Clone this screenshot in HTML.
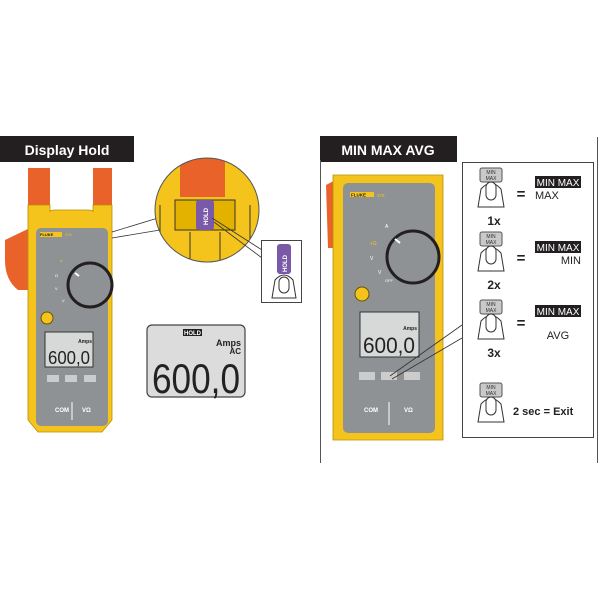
<!DOCTYPE html>
<html><head><meta charset="utf-8"><style>
html,body{margin:0;padding:0;background:#fff}
svg{display:block}
text{font-family:"Liberation Sans",sans-serif}
</style></head><body>
<svg width="600" height="600" viewBox="0 0 600 600" xmlns="http://www.w3.org/2000/svg">
<rect width="600" height="600" fill="#fff"/>
<rect x="0" y="136" width="134" height="26" fill="#231f20"/>
<text x="67" y="155" font-size="14" font-weight="bold" fill="#fff" text-anchor="middle">Display Hold</text>
<rect x="320" y="136" width="137" height="26" fill="#231f20"/>
<text x="388" y="155" font-size="14" font-weight="bold" fill="#fff" text-anchor="middle">MIN MAX AVG</text>
<line x1="320.5" y1="160" x2="320.5" y2="463" stroke="#555" stroke-width="1"/>
<line x1="597.5" y1="137" x2="597.5" y2="463" stroke="#555" stroke-width="1"/>

<!-- LEFT METER -->
<path d="M5,240 L30,228 L34,290 L18,290 Q5,280 5,260 Z" fill="#e8622a"/>
<rect x="28" y="168" width="22" height="45" fill="#e8622a"/>
<rect x="93" y="168" width="19" height="45" fill="#e8622a"/>
<path d="M28,205 L50,205 L50,212 Q50,210 55,210 L88,210 Q93,210 93,212 L93,205 L112,205 L112,420 L102,432 L38,432 L28,420 Z" fill="#f5c41c" stroke="#b98f00" stroke-width="0.8"/>
<rect x="36" y="228" width="72" height="198" rx="5" fill="#8f9294"/>
<rect x="40" y="232" width="22" height="5" fill="#f5c41c"/>
<text x="40" y="236" font-size="4" font-weight="bold" fill="#222">FLUKE</text>
<text x="65" y="236" font-size="4" fill="#f5c41c">376</text>
<circle cx="90" cy="285" r="22" fill="#8f9294" stroke="#231f20" stroke-width="3"/>
<line x1="75" y1="273" x2="79" y2="276" stroke="#fff" stroke-width="2"/>
<text x="60" y="262" font-size="4" fill="#f5c41c">A</text>
<text x="55" y="277" font-size="4" fill="#fff">Ω</text>
<text x="55" y="290" font-size="4" fill="#fff">V</text>
<text x="62" y="302" font-size="4" fill="#fff">V</text>
<circle cx="47" cy="318" r="6" fill="#f5c41c" stroke="#6b5200" stroke-width="1"/>
<rect x="45" y="332" width="48" height="35" fill="#d7d8d8" stroke="#333" stroke-width="1"/>
<text x="92" y="343" font-size="5" font-weight="bold" fill="#222" text-anchor="end">Amps</text>
<text x="69" y="364" font-size="18" fill="#222" text-anchor="middle" textLength="42" lengthAdjust="spacingAndGlyphs">600,0</text>
<rect x="47" y="375" width="12" height="7" fill="#ccc"/>
<rect x="65" y="375" width="12" height="7" fill="#ccc"/>
<rect x="84" y="375" width="12" height="7" fill="#ccc"/>
<text x="55" y="412" font-size="6" font-weight="bold" fill="#fff">COM</text>
<text x="82" y="412" font-size="6" font-weight="bold" fill="#fff">VΩ</text>
<line x1="72" y1="402" x2="72" y2="420" stroke="#fff"/>

<line x1="112" y1="232" x2="158" y2="218" stroke="#333" stroke-width="0.8"/>
<line x1="112" y1="238" x2="160" y2="230" stroke="#333" stroke-width="0.8"/>
<clipPath id="c1"><circle cx="207" cy="210" r="52"/></clipPath>
<g clip-path="url(#c1)">
<rect x="150" y="155" width="115" height="115" fill="#f5c41c"/>
<rect x="180" y="155" width="45" height="42" fill="#e8622a"/>
<path d="M175,200 L235,200 L235,230 L175,230 Z" fill="#e3b100" stroke="#333" stroke-width="1"/>
<rect x="196" y="200" width="18" height="30" rx="3" fill="#7a5aa8"/>
<line x1="190" y1="232" x2="190" y2="265" stroke="#333"/>
<line x1="220" y1="232" x2="220" y2="265" stroke="#333"/>
<line x1="160" y1="205" x2="160" y2="265" stroke="#333"/>
<line x1="250" y1="205" x2="250" y2="265" stroke="#333"/>
</g>
<circle cx="207" cy="210" r="52" fill="none" stroke="#555" stroke-width="1"/>
<text transform="translate(208,225) rotate(-90)" font-size="6" font-weight="bold" fill="#fff">HOLD</text>
<line x1="212" y1="218" x2="262" y2="250" stroke="#333" stroke-width="0.8"/>
<line x1="214" y1="222" x2="262" y2="258" stroke="#333" stroke-width="0.8"/>
<rect x="261.5" y="240.5" width="40" height="62" fill="#fff" stroke="#444"/>
<rect x="277" y="244" width="14" height="30" rx="3" fill="#7a5aa8"/>
<text transform="translate(287,272) rotate(-90)" font-size="6" font-weight="bold" fill="#fff">HOLD</text>
<path d="M272,298 L275,280 Q284,270 293,280 L296,298 Z" fill="#fff" stroke="#333"/>
<rect x="279" y="277" width="10" height="16" rx="5" fill="#fff" stroke="#333"/>

<rect x="147" y="325" width="98" height="72" rx="5" fill="#dcdcdc" stroke="#444" stroke-width="1.2"/>
<rect x="183" y="329" width="19" height="7" fill="#231f20"/>
<text x="192.5" y="335" font-size="6" font-weight="bold" fill="#fff" text-anchor="middle">HOLD</text>
<text x="241" y="346" font-size="9" font-weight="bold" fill="#222" text-anchor="end">Amps</text>
<text x="241" y="354" font-size="8" font-weight="bold" fill="#222" text-anchor="end">AC</text>
<text x="196" y="393" font-size="42" fill="#222" text-anchor="middle" textLength="88" lengthAdjust="spacingAndGlyphs">600,0</text>

<!-- RIGHT METER -->
<path d="M326,185 L345,175 L345,248 L328,248 Z" fill="#e8622a"/>
<path d="M333,175 L443,175 L443,440 L333,440 Z" fill="#f5c41c" stroke="#b98f00" stroke-width="0.8"/>
<rect x="343" y="183" width="92" height="250" rx="5" fill="#8f9294"/>
<rect x="350" y="192" width="24" height="5" fill="#f5c41c"/>
<text x="351" y="196.5" font-size="4.5" font-weight="bold" fill="#222">FLUKE</text>
<text x="377" y="197" font-size="4.5" fill="#f5c41c">376</text>
<circle cx="413" cy="257" r="26" fill="#8f9294" stroke="#231f20" stroke-width="3"/>
<line x1="395" y1="239" x2="400" y2="243" stroke="#fff" stroke-width="2"/>
<text x="385" y="228" font-size="5" fill="#fff">A</text>
<text x="370" y="245" font-size="5" fill="#f5c41c">+Ω</text>
<text x="370" y="260" font-size="5" fill="#fff">V</text>
<text x="378" y="274" font-size="5" fill="#fff">V</text>
<text x="385" y="282" font-size="4" fill="#fff">OFF</text>
<circle cx="362" cy="294" r="7" fill="#f5c41c" stroke="#6b5200" stroke-width="1"/>
<rect x="360" y="312" width="59" height="45" fill="#d7d8d8" stroke="#333" stroke-width="1"/>
<text x="417" y="330" font-size="5" font-weight="bold" fill="#222" text-anchor="end">Amps</text>
<text x="389" y="353" font-size="22" fill="#222" text-anchor="middle" textLength="52" lengthAdjust="spacingAndGlyphs">600,0</text>
<rect x="359" y="372" width="16" height="8" fill="#ccc"/>
<rect x="381" y="372" width="16" height="8" fill="#ccc"/>
<rect x="404" y="372" width="16" height="8" fill="#ccc"/>
<text x="364" y="412" font-size="6" font-weight="bold" fill="#fff">COM</text>
<text x="404" y="412" font-size="6" font-weight="bold" fill="#fff">VΩ</text>
<line x1="389" y1="402" x2="389" y2="425" stroke="#fff"/>
<line x1="390" y1="376" x2="462" y2="325" stroke="#333" stroke-width="0.8"/>
<line x1="392" y1="379" x2="462" y2="338" stroke="#333" stroke-width="0.8"/>

<rect x="462.5" y="162.5" width="131" height="275" fill="#fff" stroke="#444"/>
<g id="btn">
<rect x="480" y="168" width="22" height="14" rx="2" fill="#c9c9c9" stroke="#555"/>
<text x="491" y="174" font-size="5" fill="#333" text-anchor="middle">MIN</text>
<text x="491" y="180" font-size="5" fill="#333" text-anchor="middle">MAX</text>
<path d="M478,207 L481,189 Q491,178 501,189 L504,207 Z" fill="#fff" stroke="#333"/>
<rect x="486" y="182" width="10" height="18" rx="5" fill="#fff" stroke="#333"/>
</g>
<use href="#btn" y="64"/>
<use href="#btn" y="132"/>
<use href="#btn" y="215"/>
<text x="494" y="225" font-size="12" font-weight="bold" fill="#222" text-anchor="middle">1x</text>
<text x="494" y="289" font-size="12" font-weight="bold" fill="#222" text-anchor="middle">2x</text>
<text x="494" y="357" font-size="12" font-weight="bold" fill="#222" text-anchor="middle">3x</text>
<text x="521" y="199" font-size="15" font-weight="bold" fill="#222" text-anchor="middle">=</text>
<text x="521" y="263" font-size="15" font-weight="bold" fill="#222" text-anchor="middle">=</text>
<text x="521" y="328" font-size="15" font-weight="bold" fill="#222" text-anchor="middle">=</text>
<rect x="535" y="176" width="46" height="12" fill="#231f20"/>
<text x="558" y="186" font-size="10" fill="#fff" text-anchor="middle">MIN MAX</text>
<text x="535" y="199" font-size="11" fill="#222">MAX</text>
<rect x="535" y="241" width="46" height="12" fill="#231f20"/>
<text x="558" y="251" font-size="10" fill="#fff" text-anchor="middle">MIN MAX</text>
<text x="581" y="264" font-size="11" fill="#222" text-anchor="end">MIN</text>
<rect x="535" y="305" width="46" height="12" fill="#231f20"/>
<text x="558" y="315" font-size="10" fill="#fff" text-anchor="middle">MIN MAX</text>
<text x="558" y="339" font-size="11" fill="#222" text-anchor="middle">AVG</text>
<text x="513" y="415" font-size="11" font-weight="bold" fill="#222">2 sec = Exit</text>
</svg>
</body></html>
